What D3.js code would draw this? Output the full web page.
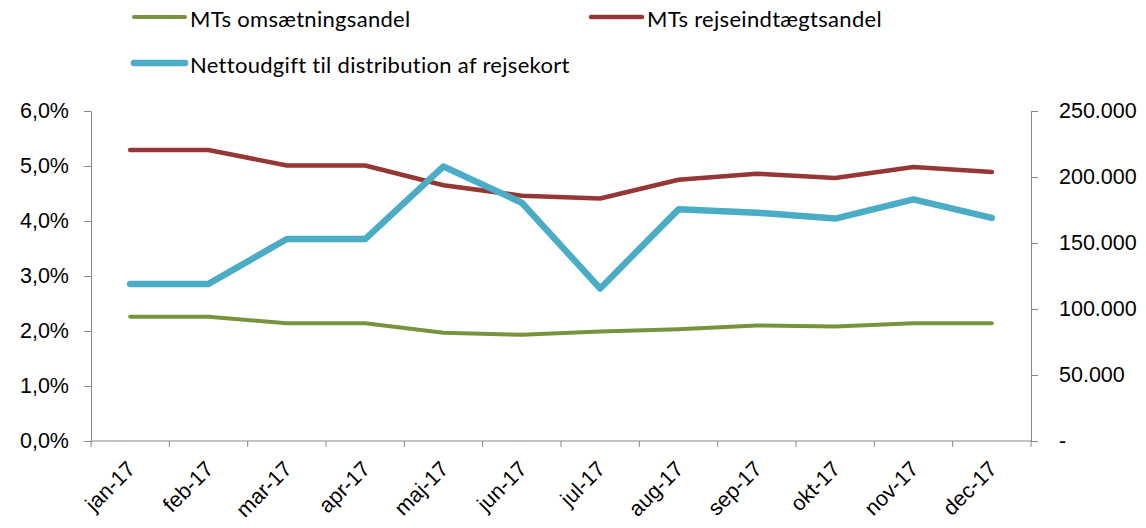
<!DOCTYPE html>
<html>
<head>
<meta charset="utf-8">
<script src="https://cdn.jsdelivr.net/npm/d3@7"></script>
<style>
  body { margin: 0; background: #fff; }
  svg { display: block; font-family: Lato, "Open Sans", sans-serif; }
  .axis path, .axis line { stroke: #868686; }
  .axis text { fill: #000; }
</style>
</head>
<body>
<div id="chart-area"></div>
<script>
const W = 1146
const H = 528
const MARGIN = { LEFT: 91, RIGHT: 115, TOP: 111, BOTTOM: 87 }
const WIDTH = W - MARGIN.LEFT - MARGIN.RIGHT
const HEIGHT = H - MARGIN.TOP - MARGIN.BOTTOM

// data
const months = ["jan-17", "feb-17", "mar-17", "apr-17", "maj-17", "jun-17",
  "jul-17", "aug-17", "sep-17", "okt-17", "nov-17", "dec-17"]
const omsaetningsandel = [2.26, 2.26, 2.14, 2.14, 1.97, 1.93, 1.99, 2.03, 2.10, 2.08, 2.14, 2.14]
const rejseindtaegtsandel = [5.29, 5.29, 5.01, 5.01, 4.65, 4.46, 4.41, 4.75, 4.86, 4.78, 4.98, 4.89]
const nettoudgift = [119000, 119000, 153000, 153000, 208000, 180500, 115500, 175500, 173000, 168500, 183000, 169000]
const leftTicks = [0, 1, 2, 3, 4, 5, 6]
const rightTicks = [0, 50000, 100000, 150000, 200000, 250000]

const svg = d3.select("#chart-area").append("svg")
  .attr("width", W)
  .attr("height", H)

const g = svg.append("g")
  .attr("transform", `translate(${MARGIN.LEFT}, ${MARGIN.TOP})`)

// Scales
const x = d3.scaleBand()
  .domain(months)
  .range([0, WIDTH])
const yLeft = d3.scaleLinear()
  .domain([0, 6])
  .range([HEIGHT, 0])
const yRight = d3.scaleLinear()
  .domain([0, 250000])
  .range([HEIGHT, 0])

// Left axis
const yLeftCall = d3.axisLeft(yLeft)
  .tickValues(leftTicks)
  .tickSize(7)
  .tickSizeOuter(0)
  .tickPadding(15)
  .tickFormat(d => d3.format(".1f")(d).replace(".", ",") + "%")
g.append("g")
  .attr("class", "axis")
  .call(yLeftCall)
  .selectAll("text")
  .attr("font-size", "21.5px")

// Right axis
const yRightCall = d3.axisRight(yRight)
  .tickValues(rightTicks)
  .tickSize(7)
  .tickSizeOuter(0)
  .tickPadding(21)
  .tickFormat(d => d === 0 ? "-" : d3.format(",")(d).replace(/,/g, "."))
g.append("g")
  .attr("class", "axis")
  .attr("transform", `translate(${WIDTH}, 0)`)
  .call(yRightCall)
  .selectAll("text")
  .attr("font-size", "21.5px")

// X axis: ticks sit between categories
const xAxisCall = d3.axisBottom(x)
  .tickSize(0)
  .tickPadding(0)
const xAxis = g.append("g")
  .attr("class", "axis")
  .attr("transform", `translate(0, ${HEIGHT})`)
  .call(xAxisCall)
xAxis.select(".domain").remove()
xAxis.append("line")
  .attr("x1", 0).attr("x2", WIDTH)
  .attr("stroke", "#868686")
xAxis.selectAll(".boundary")
  .data(months.concat(["end"]))
  .enter().append("line")
  .attr("class", "boundary")
  .attr("x1", (d, i) => i * x.step())
  .attr("x2", (d, i) => i * x.step())
  .attr("y1", 0).attr("y2", 6)
  .attr("stroke", "#868686")
xAxis.selectAll(".tick text")
  .attr("font-size", "21.5px")
  .attr("text-anchor", "end")
  .attr("transform", "translate(1, 24) rotate(-45)")
  .attr("dy", "0.35em")
  .attr("y", 0)

// Lines
const lineLeft = d3.line()
  .x((d, i) => x(months[i]) + x.bandwidth() / 2)
  .y(d => yLeft(d))
const lineRight = d3.line()
  .x((d, i) => x(months[i]) + x.bandwidth() / 2)
  .y(d => yRight(d))

const series = [
  { name: "MTs omsætningsandel", values: omsaetningsandel, line: lineLeft, color: "#77933C", width: 4 },
  { name: "MTs rejseindtægtsandel", values: rejseindtaegtsandel, line: lineLeft, color: "#953735", width: 4.5 },
  { name: "Nettoudgift til distribution af rejsekort", values: nettoudgift, line: lineRight, color: "#4BACC6", width: 6.5 }
]

series.forEach(s => {
  g.append("path")
    .datum(s.values)
    .attr("fill", "none")
    .attr("stroke", s.color)
    .attr("stroke-width", s.width)
    .attr("stroke-linejoin", "round")
    .attr("stroke-linecap", "round")
    .attr("d", s.line)
})

// Legend
const legendPos = [[134, 17], [591, 17], [134, 63]]
series.forEach((s, i) => {
  const row = svg.append("g")
    .attr("transform", `translate(${legendPos[i][0]}, ${legendPos[i][1]})`)
  row.append("line")
    .attr("x1", 0).attr("x2", 51)
    .attr("stroke", s.color)
    .attr("stroke-width", s.width)
    .attr("stroke-linecap", "round")
  row.append("text")
    .attr("x", 56)
    .attr("y", 2)
    .attr("dy", "0.35em")
    .attr("font-size", "22px")
    .attr("letter-spacing", "0.3px")
    .text(s.name)
})
</script>
</body>
</html>
